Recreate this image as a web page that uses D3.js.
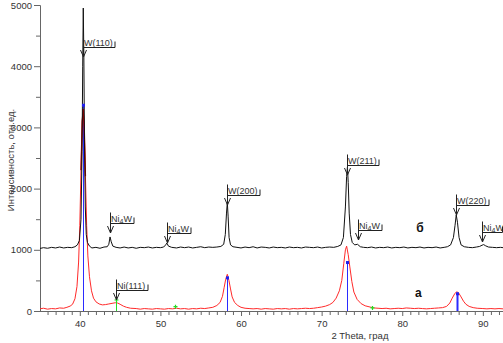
<!DOCTYPE html>
<html><head><meta charset="utf-8">
<script src="https://cdn.jsdelivr.net/npm/d3@7"></script>
<style>body{margin:0;background:#fff}svg{display:block}text{font-family:"Liberation Sans",Arial,sans-serif}</style>
</head><body><svg id="c" width="503" height="343"></svg>
<script>
// curve б (black, shifted)
const thetaB = [35.0,35.5,36.0,36.5,37.0,37.5,38.0,38.5,39.0,39.4,39.7,39.95,40.15,40.28,40.36,40.43,40.5,40.58,40.68,40.8,40.95,41.2,41.5,42.0,42.5,43.0,43.4,43.6,43.75,43.9,44.1,44.5,45.0,45.5,46.0,46.5,47.0,47.5,48.0,48.5,49.0,49.5,50.0,50.4,50.65,50.8,51.0,51.4,52.0,52.5,53.0,53.5,54.0,54.5,55.0,55.5,56.0,56.5,57.0,57.5,57.85,58.05,58.2,58.3,58.4,58.52,58.7,59.0,59.5,60.0,60.5,61.0,61.5,62.0,62.5,63.0,63.5,64.0,64.5,65.0,65.5,66.0,66.5,67.0,67.5,68.0,68.5,69.0,69.5,70.0,70.5,71.0,71.5,72.0,72.4,72.7,72.95,73.1,73.2,73.3,73.42,73.58,73.8,74.1,74.45,74.8,75.2,75.7,76.2,76.7,77.2,77.7,78.2,78.7,79.2,79.7,80.2,80.7,81.2,81.7,82.2,82.7,83.2,83.7,84.2,84.7,85.2,85.6,86.0,86.35,86.55,86.7,86.85,87.05,87.3,87.7,88.2,88.7,89.2,89.6,89.9,90.1,90.35,90.7,91.2,91.7,92.2,92.5];
const intensityB = [1020,1035,1025,1040,1030,1045,1030,1040,1035,1050,1080,1150,1500,2600,4000,4950,4200,2800,1700,1250,1120,1060,1030,1040,1025,1045,1050,1090,1210,1130,1060,1040,1030,1045,1030,1040,1025,1040,1035,1045,1030,1040,1035,1045,1080,1110,1060,1040,1030,1045,1035,1045,1030,1040,1050,1035,1045,1040,1045,1055,1090,1250,1600,1770,1550,1200,1080,1050,1040,1030,1045,1035,1050,1030,1045,1040,1030,1045,1035,1040,1030,1045,1035,1040,1030,1045,1040,1035,1045,1030,1040,1045,1040,1055,1080,1200,1700,2200,2350,2100,1600,1250,1120,1080,1090,1050,1040,1035,1045,1030,1040,1035,1045,1030,1040,1035,1045,1030,1040,1035,1045,1030,1040,1035,1045,1030,1040,1050,1080,1200,1400,1570,1450,1200,1080,1050,1040,1035,1045,1055,1075,1085,1065,1045,1040,1035,1040,1035];
// curve а (red)
const thetaA = [35.0,35.5,36.0,36.5,37.0,37.5,38.0,38.4,38.8,39.1,39.4,39.65,39.85,40.0,40.15,40.3,40.42,40.55,40.7,40.85,41.0,41.2,41.45,41.7,42.0,42.4,42.8,43.2,43.6,44.0,44.4,44.7,45.0,45.4,45.8,46.3,47.0,47.5,48.0,48.5,49.0,49.5,50.0,50.5,51.0,51.5,52.0,52.5,53.0,53.5,54.0,54.5,55.0,55.5,56.0,56.5,57.0,57.4,57.7,57.9,58.1,58.3,58.5,58.7,58.9,59.2,59.6,60.0,60.5,61.0,61.5,62.0,62.5,63.0,63.5,64.0,64.5,65.0,65.5,66.0,66.5,67.0,67.5,68.0,68.5,69.0,69.5,70.0,70.5,71.0,71.4,71.8,72.2,72.5,72.75,72.95,73.1,73.3,73.5,73.75,74.0,74.4,74.9,75.4,76.0,76.5,77.0,77.5,78.0,78.5,79.0,79.5,80.0,80.5,81.0,81.5,82.0,82.5,83.0,83.5,84.0,84.5,85.0,85.5,85.9,86.2,86.5,86.75,87.0,87.3,87.6,87.9,88.3,88.8,89.3,90.0,90.5,91.0,91.5,92.0,92.5];
const intensityA = [35,45,30,40,35,50,45,60,80,110,200,400,800,1400,2300,3100,3300,3000,2200,1400,900,560,330,210,150,115,100,105,115,125,135,130,110,80,60,45,40,30,40,35,30,40,35,30,40,35,45,35,40,30,40,35,45,40,50,60,90,140,240,380,520,600,500,360,230,140,90,60,45,40,35,40,30,40,35,30,40,35,40,30,40,35,40,45,40,45,55,65,80,105,140,210,330,500,780,1000,1060,920,720,480,310,190,120,85,65,50,45,40,45,35,40,45,40,50,45,40,45,40,35,40,45,50,55,75,130,210,280,315,295,230,160,110,75,55,45,40,35,40,35,40,35];
// reference sticks (blue) and Ni markers (green)
const stickTheta = [40.43, 58.3, 73.1, 86.8];
const stickValue = [3370, 550, 800, 290];
const niTheta = [44.5, 51.85, 76.2];
const niValue = [180, 70, 50];
// annotations: [main, subscript, rest]
const annLabels = [["W(110)"],["Ni","4","W"],["Ni","4","W"],["W(200)"],["W(211)"],["Ni","4","W"],["W(220)"],["Ni","4","W"],["Ni(111)"]];
const annTheta  = [40.43, 43.75, 50.8, 58.3, 73.2, 74.45, 86.7, 89.9, 44.5];
const annTip    = [4150, 1275, 1110, 1730, 2220, 1160, 1570, 1120, 180];
const seriesNames = ["б", "а"];
const seriesNameTheta = [82.2, 82.0];
const seriesNameValue = [1290, 230];
const xTicks = [40, 50, 60, 70, 80, 90];
const yTicks = [0, 1000, 2000, 3000, 4000, 5000];
const xTitle = "2 Theta, град";
const yTitle = "Интенсивность, отн.ед.";

const svg = d3.select("#c");
const x = d3.scaleLinear().domain([35, 92.5]).range([39.5, 503]);
const y = d3.scaleLinear().domain([0, 5000]).range([311, 5]);

// axes
const axCol = "#666", txCol = "#333";
const gx = svg.append("g").attr("transform", "translate(0,311)");
gx.call(d3.axisBottom(x).tickValues(d3.range(36, 93, 1).filter(v => v % 10 !== 0)).tickSize(4).tickFormat(""));
gx.call(g => g.select(".domain").remove());
const gx2 = svg.append("g").attr("transform", "translate(0,311)")
  .call(d3.axisBottom(x).tickValues(xTicks).tickSize(5).tickPadding(4).tickFormat(d3.format("d")));
const gy = svg.append("g").attr("transform", "translate(40,0)")
  .call(d3.axisLeft(y).tickValues(d3.range(500, 5000, 1000)).tickSize(4).tickFormat(""));
gy.select(".domain").remove();
const gy2 = svg.append("g").attr("transform", "translate(40,0)")
  .call(d3.axisLeft(y).tickValues(yTicks).tickSize(6).tickPadding(2).tickFormat(d3.format("d")));
svg.selectAll(".domain").attr("stroke", axCol);
svg.selectAll(".tick line").attr("stroke", axCol);
svg.selectAll(".tick text").attr("fill", txCol).style("font-size", "9.5px").style("font-family", "Liberation Sans, Arial, sans-serif");
gx2.select(".domain").attr("d", "M39.5,0.5H503");

svg.append("text").attr("x", 360).attr("y", 339).attr("text-anchor", "middle")
  .attr("fill", txCol).style("font-size", "9.5px").text(xTitle);
svg.append("text").attr("transform", "translate(14,160) rotate(-90)").attr("text-anchor", "middle")
  .attr("fill", txCol).style("font-size", "9.5px").text(yTitle);

svg.append("defs").append("clipPath").attr("id", "pc")
  .append("rect").attr("x", 40).attr("y", 0).attr("width", 463).attr("height", 311);
const plot = svg.append("g").attr("clip-path", "url(#pc)");

const line = d3.line().x(d => x(d[0])).y(d => y(d[1]));
const dataA = thetaA.map((t, i) => [t, intensityA[i]]);
const dataB = thetaB.map((t, i) => [t, intensityB[i]]);

// blue sticks
plot.selectAll(".stick").data(stickTheta).join("line")
  .attr("x1", d => Math.round(x(d)) + 0.5).attr("x2", d => Math.round(x(d)) + 0.5)
  .attr("y1", y(0)).attr("y2", (d, i) => y(stickValue[i]))
  .attr("stroke", "#2b2bff").attr("stroke-width", (d, i) => i === 3 ? 2 : 1);

plot.append("path").datum(dataA).attr("d", line).attr("fill", "none")
  .attr("stroke", "#ff2a2a").attr("stroke-width", 1);
plot.append("path").datum(dataA.filter(d => d[0] >= 40.15 && d[0] <= 40.7)).attr("d", line).attr("fill", "none")
  .attr("stroke", "#990000").attr("stroke-width", 1.3);
plot.append("path").datum(dataB).attr("d", line).attr("fill", "none")
  .attr("stroke", "#111").attr("stroke-width", 1);

// stick tops
plot.selectAll(".stop").data(stickTheta).join("rect")
  .attr("x", d => Math.round(x(d)) - 1).attr("y", (d, i) => y(stickValue[i]) - 1)
  .attr("width", 3).attr("height", 3).attr("fill", "#2020ee");

// green Ni markers
niTheta.forEach((t, i) => {
  const cx = Math.round(x(t)) + 0.5, cy = y(niValue[i]);
  if (i === 0) plot.append("line").attr("x1", cx).attr("x2", cx).attr("y1", y(0)).attr("y2", cy).attr("stroke", "#22dd22");
  plot.append("path").attr("d", `M${cx - 2},${cy}H${cx + 2}M${cx},${cy - 2}V${cy + 2}`).attr("stroke", "#22dd22").attr("stroke-width", 1.2);
});

// annotations
const annCol = "#222";
annLabels.forEach((lab, i) => {
  const x0 = Math.round(x(annTheta[i])) + 0.5;
  const tip = Math.round(y(annTip[i]));
  const ul = tip - 9.5;
  const t = svg.append("text").attr("x", x0 + 0.5).attr("y", ul - 1.5).attr("fill", "#333")
    .style("font-size", "9px");
  t.append("tspan").text(lab[0]);
  if (lab.length > 1) {
    t.append("tspan").attr("dy", 2).style("font-size", "7px").text(lab[1]);
    t.append("tspan").attr("dy", -2).text(lab[2]);
  }
  const w = t.node().getComputedTextLength();
  svg.append("path").attr("fill", "none").attr("stroke", annCol).attr("stroke-width", 1)
    .attr("d", `M${x0},${ul - 11}V${tip}M${x0},${ul}H${Math.min(502.5, Math.round(x0 + w + 3))}V${ul - 6}M${x0 - 3},${tip - 7}L${x0},${tip}L${x0 + 3},${tip - 7}`);
});

// series names
seriesNames.forEach((s, i) => {
  svg.append("text").attr("x", x(seriesNameTheta[i])).attr("y", y(seriesNameValue[i]))
    .attr("text-anchor", "middle").attr("fill", "#111")
    .style("font-size", "12px").style("font-weight", "bold").text(s);
});
</script></body></html>
